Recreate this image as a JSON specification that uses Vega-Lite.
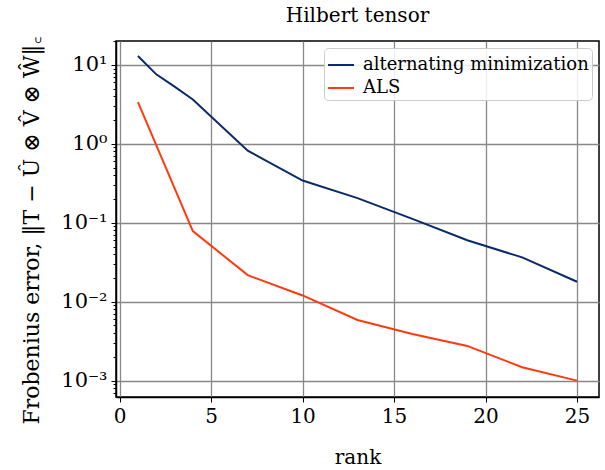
{
  "$schema": "https://vega.github.io/schema/vega-lite/v6.json",
  "autosize": "none",
  "width": 483,
  "height": 356,
  "padding": {"left": 116, "top": 41, "right": 6, "bottom": 73},
  "background": "white",
  "title": {"text": "Hilbert tensor", "font": "DejaVu Serif", "fontSize": 20, "fontWeight": "normal", "color": "#000", "offset": 10},
  "data": {"values": [
    {"rank": 1, "error": 13.0, "method": "alternating minimization"},
    {"rank": 2, "error": 7.6, "method": "alternating minimization"},
    {"rank": 3, "error": 5.3, "method": "alternating minimization"},
    {"rank": 4, "error": 3.65, "method": "alternating minimization"},
    {"rank": 7, "error": 0.82, "method": "alternating minimization"},
    {"rank": 10, "error": 0.343, "method": "alternating minimization"},
    {"rank": 13, "error": 0.205, "method": "alternating minimization"},
    {"rank": 16, "error": 0.112, "method": "alternating minimization"},
    {"rank": 19, "error": 0.060, "method": "alternating minimization"},
    {"rank": 22, "error": 0.0364, "method": "alternating minimization"},
    {"rank": 25, "error": 0.0179, "method": "alternating minimization"},
    {"rank": 1, "error": 3.37, "method": "ALS"},
    {"rank": 4, "error": 0.0785, "method": "ALS"},
    {"rank": 7, "error": 0.0217, "method": "ALS"},
    {"rank": 10, "error": 0.0120, "method": "ALS"},
    {"rank": 13, "error": 0.00586, "method": "ALS"},
    {"rank": 16, "error": 0.0039, "method": "ALS"},
    {"rank": 19, "error": 0.00275, "method": "ALS"},
    {"rank": 22, "error": 0.00148, "method": "ALS"},
    {"rank": 25, "error": 0.00100, "method": "ALS"}
  ]},
  "mark": {"type": "line", "strokeWidth": 2, "clip": true},
  "encoding": {
    "x": {
      "field": "rank", "type": "quantitative",
      "scale": {"domain": [-0.2, 26.2], "nice": false, "zero": false},
      "axis": {
        "title": "rank", "values": [0, 5, 10, 15, 20, 25],
        "titleFont": "DejaVu Serif", "titleFontSize": 20, "titleFontWeight": "normal", "titleColor": "#000", "titlePadding": 21,
        "labelFont": "DejaVu Serif", "labelFontSize": 20, "labelColor": "#000", "labelPadding": 4,
        "tickSize": 5, "tickColor": "#000", "tickWidth": 1,
        "domainColor": "#000", "domainWidth": 1.5,
        "grid": true, "gridColor": "#888", "gridWidth": 1.3
      }
    },
    "y": {
      "field": "error", "type": "quantitative",
      "scale": {"type": "log", "domain": [0.00062, 20.1], "nice": false},
      "axis": {
        "title": "Frobenius error, ‖T − Û ⊗ V̂ ⊗ Ŵ‖꜀",
        "values": [0.0006, 0.0007, 0.0008, 0.0009, 0.001, 0.002, 0.003, 0.004, 0.005, 0.006, 0.007, 0.008, 0.009, 0.01, 0.02, 0.03, 0.04, 0.05, 0.06, 0.07, 0.08, 0.09, 0.1, 0.2, 0.3, 0.4, 0.5, 0.6, 0.7, 0.8, 0.9, 1, 2, 3, 4, 5, 6, 7, 8, 9, 10, 20],
        "labelExpr": "datum.value == 10 ? '10¹' : datum.value == 1 ? '10⁰' : datum.value == 0.1 ? '10⁻¹' : datum.value == 0.01 ? '10⁻²' : datum.value == 0.001 ? '10⁻³' : ''",
        "titleFont": "DejaVu Serif", "titleFontSize": 22, "titleFontWeight": "normal", "titleColor": "#000",
        "titleX": -78, "titleY": 189, "titleAlign": "center", "titleBaseline": "alphabetic", "titleAngle": 270,
        "labelFont": "DejaVu Serif", "labelFontSize": 21, "labelColor": "#000", "labelPadding": 4,
        "tickSize": {"condition": {"test": "datum.value == 10 || datum.value == 1 || datum.value == 0.1 || datum.value == 0.01 || datum.value == 0.001", "value": 5}, "value": 3},
        "tickColor": "#000", "tickWidth": 1,
        "domainColor": "#000", "domainWidth": 1.5,
        "grid": true, "gridColor": "#888", "gridWidth": 1.3,
        "gridOpacity": {"condition": {"test": "datum.value == 10 || datum.value == 1 || datum.value == 0.1 || datum.value == 0.01 || datum.value == 0.001", "value": 1}, "value": 0}
      }
    },
    "color": {
      "field": "method", "type": "nominal",
      "scale": {"domain": ["alternating minimization", "ALS"], "range": ["#0b2a6b", "#ff3a0f"]},
      "legend": {
        "title": null, "orient": "top-right", "offset": 7,
        "symbolType": "stroke", "symbolSize": 676, "symbolStrokeWidth": 2,
        "labelFont": "DejaVu Serif", "labelFontSize": 18, "labelColor": "#000", "labelLimit": 400, "labelOffset": 8,
        "strokeColor": "#ccc", "fillColor": "rgba(255,255,255,0.85)", "cornerRadius": 4, "padding": 3, "rowPadding": 0
      }
    }
  },
  "config": {"view": {"stroke": "#000", "strokeWidth": 1.5}}
}
